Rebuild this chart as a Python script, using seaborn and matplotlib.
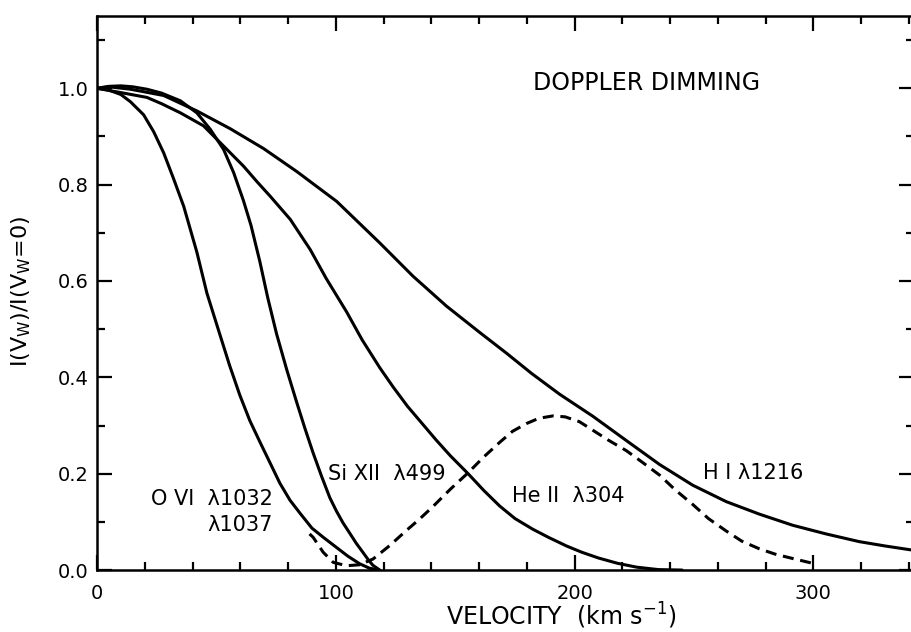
import numpy as np
import pandas as pd
import seaborn as sns
import matplotlib.pyplot as plt
from matplotlib.ticker import MultipleLocator

# curves (velocity in km/s, normalised intensity)
ovi_v = [0, 5, 10, 14, 19.5, 23.7, 27.9, 32, 36.3, 41.8, 46, 51.5, 55.5, 59.8, 64,
         68.2, 72.5, 76.6, 80.8, 85, 90, 95, 100, 105, 110, 114, 118]
ovi_i = [1.0, 0.996, 0.987, 0.972, 0.945, 0.910, 0.866, 0.813, 0.755, 0.660, 0.575,
         0.488, 0.425, 0.363, 0.31, 0.266, 0.222, 0.180, 0.145, 0.118, 0.087, 0.067,
         0.048, 0.029, 0.013, 0.004, 0.0]

sixii_v = [0, 5, 10, 15, 20.9, 27, 34.9, 41.8, 47.4, 53, 57.2, 61.3, 64.5, 68.2, 71.5,
           75.2, 79.5, 83.5, 87, 90.5, 94, 97.5, 100.3, 103, 105.9, 108.5, 111.3,
           113.5, 115.5, 118.4]
sixii_i = [1.0, 1.004, 1.005, 1.003, 0.998, 0.99, 0.974, 0.949, 0.915, 0.873, 0.825,
           0.767, 0.715, 0.640, 0.565, 0.490, 0.415, 0.350, 0.295, 0.243, 0.195, 0.150,
           0.122, 0.098, 0.076, 0.056, 0.037, 0.022, 0.010, 0.0]

heii_v = [0, 10, 20.9, 27, 34.9, 44.6, 51.6, 61.4, 67, 72.5, 80.9, 89.3, 96, 104.5, 111,
          118.4, 124, 130, 136, 142, 148, 155.4, 162, 168.6, 175, 182.4, 189, 196.6,
          203, 210, 218, 226, 235, 245]
heii_i = [1.0, 0.991, 0.981, 0.968, 0.949, 0.922, 0.887, 0.838, 0.806, 0.776, 0.728,
          0.665, 0.605, 0.536, 0.478, 0.42, 0.38, 0.34, 0.305, 0.27, 0.237, 0.200,
          0.165, 0.133, 0.107, 0.085, 0.068, 0.050, 0.037, 0.025, 0.014, 0.006, 0.001, 0.0]

hi_v = [0, 5, 14, 27.9, 41.8, 55.8, 69.7, 83.7, 100.4, 118.4, 132.3, 146.3, 160.3,
        171.5, 182, 193.7, 207.7, 221.6, 235.6, 249.5, 263.5, 277.4, 291.3, 305.3,
        319.2, 330, 342]
hi_i = [1.0, 1.003, 0.998, 0.985, 0.953, 0.916, 0.875, 0.827, 0.765, 0.679, 0.61,
        0.548, 0.493, 0.450, 0.408, 0.365, 0.319, 0.269, 0.219, 0.176, 0.142, 0.116,
        0.093, 0.075, 0.059, 0.05, 0.041]

dash_v = [89, 90.5, 94.7, 98.9, 104.5, 110, 115.6, 122.6, 129.5, 135.1, 140.7, 148,
          155.4, 162, 168.6, 174, 179.8, 185, 191, 196, 202, 207.7, 214, 221.6, 228,
          235.6, 242, 249.5, 256, 263.5, 270, 277.4, 284, 291.3, 299.7]
dash_i = [0.075, 0.068, 0.037, 0.016, 0.009, 0.011, 0.023, 0.051, 0.082, 0.106, 0.132,
          0.168, 0.202, 0.235, 0.265, 0.288, 0.304, 0.315, 0.32, 0.318, 0.308, 0.29,
          0.27, 0.248, 0.225, 0.197, 0.167, 0.136, 0.107, 0.081, 0.06, 0.044, 0.033,
          0.024, 0.014]

sns.set_style("ticks")
plt.rcParams['font.family'] = ['DejaVu Sans']
plt.rcParams['text.color'] = 'black'
plt.rcParams['axes.labelcolor'] = 'black'
plt.rcParams['xtick.color'] = 'black'
plt.rcParams['ytick.color'] = 'black'

fig = plt.figure(figsize=(9.11, 6.32), dpi=100)
# right edge pushed just past the canvas: the reference is cropped there
ax = fig.add_axes([0.1065, 0.098, 0.8965, 0.8767])

for v, i in [(ovi_v, ovi_i), (sixii_v, sixii_i), (heii_v, heii_i), (hi_v, hi_i)]:
    sns.lineplot(x=v, y=i, ax=ax, color='black', lw=2.2)
sns.lineplot(x=dash_v, y=dash_i, ax=ax, color='black', lw=2.2,
             linestyle=(0, (3.6, 2.2)))

ax.set_xlim(0, 342)
ax.set_ylim(0, 1.15)
ax.xaxis.set_major_locator(MultipleLocator(100))
ax.xaxis.set_minor_locator(MultipleLocator(20))
ax.yaxis.set_major_locator(MultipleLocator(0.2))
ax.yaxis.set_minor_locator(MultipleLocator(0.1))
ax.set_yticks([0, 0.2, 0.4, 0.6, 0.8, 1.0])
ax.set_yticklabels(['0.0', '0.2', '0.4', '0.6', '0.8', '1.0'])
ax.tick_params(which='both', direction='in', top=True, right=True,
               width=1.6, color='black', labelsize=14, labelcolor='black')
ax.tick_params(which='major', length=11)
ax.tick_params(which='minor', length=6)
ax.tick_params(axis='x', pad=10)
ax.tick_params(axis='y', pad=6)
for s in ax.spines.values():
    s.set_linewidth(1.8)
    s.set_color('black')

ax.set_xlabel("VELOCITY  (km s$^{-1}$)", fontsize=17)
ax.xaxis.set_label_coords(0.568, -0.056)
ax.set_ylabel(r"I(V$_{\mathrm{W}}$)/I(V$_{\mathrm{W}}$=0)", fontsize=16)
ax.yaxis.set_label_coords(-0.079, 0.502)

ax.text(230, 1.01, "DOPPLER DIMMING", fontsize=17, ha='center', va='center')
ax.text(73.6, 0.148, "O VI  \u03bb1032", fontsize=15, ha='right', va='center')
ax.text(73.6, 0.094, "\u03bb1037", fontsize=15, ha='right', va='center')
ax.text(96.7, 0.20, "Si XII  \u03bb499", fontsize=15, ha='left', va='center')
ax.text(173.6, 0.153, "He II  \u03bb304", fontsize=15, ha='left', va='center')
ax.text(253.6, 0.201, "H I \u03bb1216", fontsize=15, ha='left', va='center')

plt.savefig("out.png", dpi=100)
plt.close()
